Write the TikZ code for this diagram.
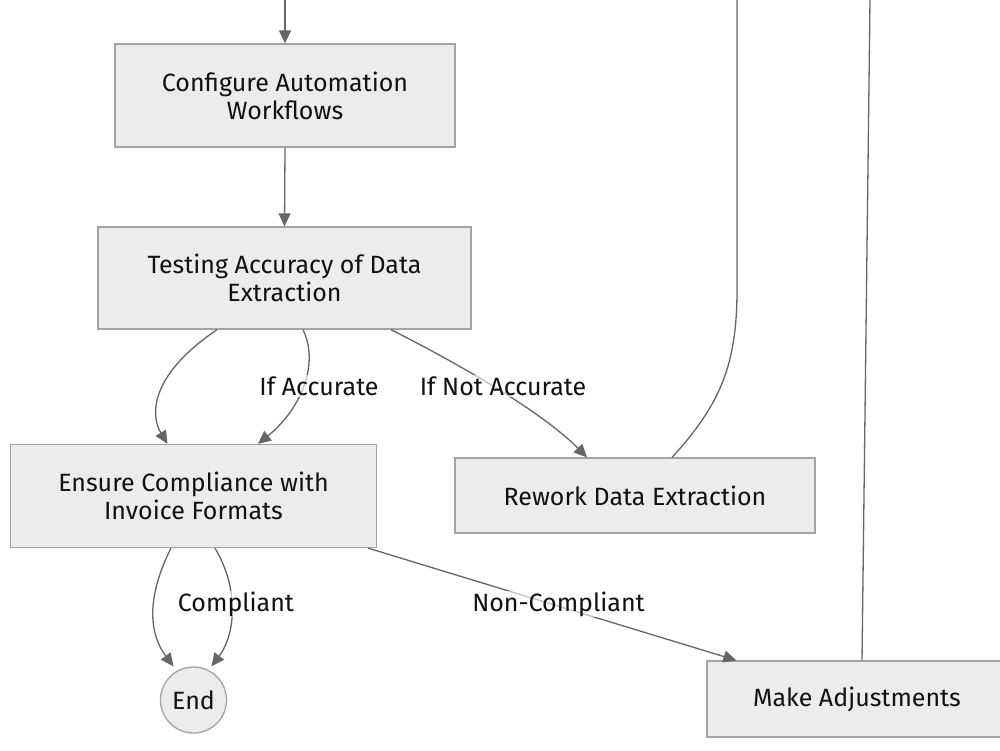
\documentclass[tikz,border=0pt]{standalone}
\usepackage{fontspec}
\setmainfont{Fira Sans}
\usetikzlibrary{arrows.meta}
\definecolor{boxfill}{HTML}{ECECEC}
\definecolor{boxline}{HTML}{A3A3A3}
\definecolor{edgecol}{HTML}{666666}
\definecolor{txt}{HTML}{111111}
\begin{document}
\begin{tikzpicture}[x=1pt,y=-1pt,
  every node/.style={font=\fontsize{25}{28}\selectfont, text=txt},
  procbox/.style={draw=boxline, fill=boxfill, line width=1.3pt, align=center, inner sep=0pt},
  endcirc/.style={draw=boxline, fill=boxfill, line width=1.3pt, circle, inner sep=0pt, minimum size=66pt},
  flow/.style={draw=edgecol, line width=1.3pt, -{Triangle[length=13pt,width=12pt]}},
  plain/.style={draw=edgecol, line width=1.3pt},
  elabel/.style={fill=white, fill opacity=0.6, text opacity=1, inner sep=1pt}
]
\useasboundingbox (0,0) rectangle (1000,750);
\clip (0,0) rectangle (1000,750);
\fill[white] (0,0) rectangle (1000,750);

\node[procbox, minimum width=340pt, minimum height=103pt] (conf) at (285,95.5) {Configure Automation\\Workflows};
\node[procbox, minimum width=373pt, minimum height=102pt] (test) at (284.5,278) {Testing Accuracy of Data\\Extraction};
\node[procbox, minimum width=366pt, minimum height=103pt] (ens) at (193.5,496) {Ensure Compliance with\\Invoice Formats};
\node[procbox, minimum width=360pt, minimum height=75pt] (rew) at (635,495.5) {Rework Data Extraction};
\node[procbox, minimum width=300pt, minimum height=76pt] (adj) at (857,699) {Make Adjustments};
\node[endcirc] (end) at (193.5,700) {End};

\coordinate (topin) at (285,0);
\coordinate (rewout) at (737,0);
\coordinate (adjout) at (870,0);

\draw[flow] (topin) -- (conf.north);
\draw[flow] (conf.south) -- (test.south |- test.north);

\draw[flow] ([xshift=-67.5pt]test.south) .. controls (150,375) and (150,415) .. ([xshift=-26pt]ens.north);
\draw[flow] ([xshift=18.5pt]test.south) .. controls (320,365) and (300,410) .. ([xshift=64.5pt]ens.north);
\node[elabel] (lacc) at (319,386) {If Accurate};

\draw[flow] ([xshift=106.5pt]test.south) .. controls (455,362) and (540,410) .. ([xshift=-48pt]rew.north);
\node[elabel] (lnacc) at (503,386) {If Not Accurate};

\draw[plain] ([xshift=37pt]rew.north) .. controls (720,405) and (737,365) .. (737,290) -- (rewout);

\draw[flow] ([xshift=-22.5pt]ens.south) .. controls (145,600) and (150,635) .. ([xshift=-20pt]end.north);
\draw[flow] ([xshift=21.5pt]ens.south) .. controls (240,590) and (235,635) .. ([xshift=18pt]end.north);
\node[elabel] (lcomp) at (236,604) {Compliant};

\draw[flow] ([xshift=-9pt]ens.south east) -- ([xshift=30pt]adj.north west);
\node[elabel] (lncomp) at (558.5,604) {Non-Compliant};

\draw[plain] ([xshift=5pt]adj.north) -- (adjout);
\end{tikzpicture}
\end{document}
